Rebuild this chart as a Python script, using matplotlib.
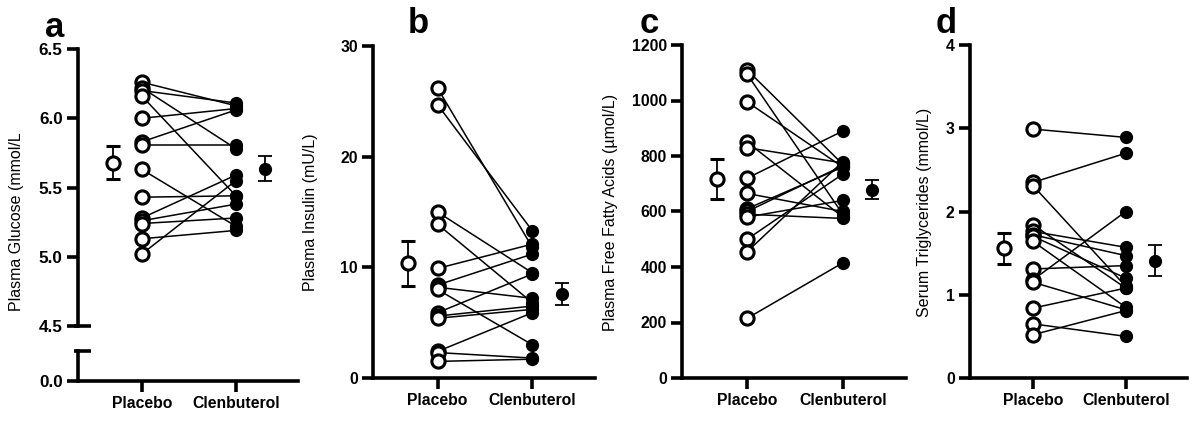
import numpy as np
import matplotlib.pyplot as plt

plt.rcParams['font.family'] = ['Liberation Sans', 'DejaVu Sans']

groups = ['Placebo', 'Clenbuterol']

# a - plasma glucose (mmol/L), paired per subject
glucose_placebo = [6.26, 6.22, 6.20, 6.16, 6.00, 5.83, 5.81, 5.63, 5.43, 5.28, 5.26, 5.24, 5.13, 5.02]
glucose_clen = [6.09, 5.78, 6.11, 5.44, 6.07, 6.06, 5.81, 5.22, 5.44, 5.59, 5.38, 5.28, 5.19, 5.55]
glucose_mean = [5.68, 5.635]
glucose_err = [0.12, 0.09]

# b - plasma insulin (mU/L)
insulin_placebo = [26.2, 24.7, 15.0, 13.9, 9.9, 8.4, 8.2, 8.0, 5.9, 5.6, 5.4, 2.4, 2.3, 1.5]
insulin_clen = [11.8, 13.3, 9.5, 6.8, 12.1, 11.2, 7.2, 3.0, 9.4, 6.5, 6.2, 5.9, 1.8, 1.7]
insulin_mean = [10.35, 7.6]
insulin_err = [2.05, 1.0]

# c - plasma free fatty acids (umol/L)
ffa_placebo = [1110, 1095, 995, 850, 830, 720, 665, 610, 600, 590, 580, 500, 455, 215]
ffa_clen = [770, 590, 760, 580, 775, 890, 600, 760, 765, 575, 640, 735, 780, 415]
ffa_mean = [716, 679]
ffa_err = [72, 35]

# d - serum triglycerides (mmol/L)
tg_placebo = [2.99, 2.35, 2.31, 1.84, 1.76, 1.72, 1.70, 1.64, 1.31, 1.18, 1.15, 0.84, 0.65, 0.52]
tg_clen = [2.89, 2.70, 1.10, 1.08, 1.57, 1.47, 1.20, 0.85, 1.35, 2.00, 0.82, 1.08, 0.50, 0.81]
tg_mean = [1.56, 1.41]
tg_err = [0.185, 0.185]

W, H = 1189, 421
fig = plt.figure(figsize=(W / 100, H / 100), dpi=100)

def px(left, top, right, bottom):
    return [left / W, 1 - bottom / H, (right - left) / W, (bottom - top) / H]

SPW = 2.6
tickfont = {'fontweight': 'bold', 'fontsize': 11.3}

def style(ax, xaxis=True):
    for s in ['top', 'right']:
        ax.spines[s].set_visible(False)
    for s in ['left', 'bottom']:
        ax.spines[s].set_linewidth(SPW)
    ax.tick_params(axis='both', direction='out', width=SPW, length=8, pad=3)
    ax.set_xlim(0.32, 2.66)
    if xaxis:
        ax.set_xticks([1, 2])
        ax.set_xticklabels(groups, **tickfont)
    else:
        ax.spines['bottom'].set_visible(False)
        ax.set_xticks([])

def draw(ax, pla, cle, mean, err):
    for a, b in zip(pla, cle):
        ax.plot([1, 2], [a, b], color='black', lw=1.1, zorder=2, clip_on=False)
    ax.plot(np.ones(len(pla)), pla, 'o', ms=9.5, mfc='white', mec='black',
            mew=2.2, zorder=3, clip_on=False)
    ax.plot(np.full(len(cle), 2), cle, 'o', ms=8.5, color='black', zorder=3, clip_on=False)
    ax.errorbar([0.69], [mean[0]], yerr=[err[0]], fmt='o', ms=9.5, mfc='white',
                mec='black', mew=2.2, ecolor='black', elinewidth=1.3, capsize=5,
                capthick=1.3, zorder=3)
    ax.errorbar([2.31], [mean[1]], yerr=[err[1]], fmt='o', ms=8.5, color='black',
                ecolor='black', elinewidth=1.3, capsize=5, capthick=1.3, zorder=3)

# panel a with broken axis
ax_a = fig.add_axes(px(78, 49, 298, 326))
ax_a0 = fig.add_axes(px(78, 351, 298, 381))
style(ax_a, xaxis=False)
style(ax_a0)
draw(ax_a, glucose_placebo, glucose_clen, glucose_mean, glucose_err)
ax_a.set_ylim(4.5, 6.5)
yt = [4.5, 5.0, 5.5, 6.0, 6.5]
ax_a.set_yticks(yt)
ax_a.set_yticklabels(['%.1f' % v for v in yt], fontweight='bold', fontsize=12.3)
ax_a0.set_ylim(0, 1)
ax_a0.set_yticks([0])
ax_a0.set_yticklabels(['0.0'], fontweight='bold', fontsize=12.3)
for ax, yy in [(ax_a, 0), (ax_a0, 1)]:
    ax.plot([-0.02, 0.06], [yy, yy], transform=ax.transAxes, color='black',
            lw=SPW, clip_on=False, solid_capstyle='butt')
fig.text(17 / W, 1 - 222 / H, 'Plasma Glucose (mmol/L', rotation=90,
         ha='center', va='center', fontsize=11.5)
fig.text(45 / W, 1 - 37 / H, 'a', fontsize=25, fontweight='bold')

panels = [
    (px(373, 46, 595, 378), insulin_placebo, insulin_clen, insulin_mean, insulin_err,
     30, [0, 10, 20, 30], 'Plasma Insulin (mU/L)', 310, 'b', 408),
    (px(682, 45, 906, 378), ffa_placebo, ffa_clen, ffa_mean, ffa_err,
     1200, list(range(0, 1201, 200)), 'Plasma Free Fatty Acids (\u00b5mol/L)', 611, 'c', 640),
    (px(970, 45, 1187, 378), tg_placebo, tg_clen, tg_mean, tg_err,
     4, [0, 1, 2, 3, 4], 'Serum Triglycerides (mmol/L)', 924, 'd', 936),
]

for rect, pla, cle, mean, err, ymax, ticks, label, lx, letter, tx in panels:
    ax = fig.add_axes(rect)
    style(ax)
    draw(ax, pla, cle, mean, err)
    ax.set_ylim(0, ymax)
    ax.set_yticks(ticks)
    ax.set_yticklabels([str(t) for t in ticks], **tickfont)
    fig.text(lx / W, 1 - 212 / H, label, rotation=90, ha='center', va='center', fontsize=11.5)
    fig.text(tx / W, 1 - 33 / H, letter, fontsize=25, fontweight='bold')

fig.savefig('out.png', dpi=100)
